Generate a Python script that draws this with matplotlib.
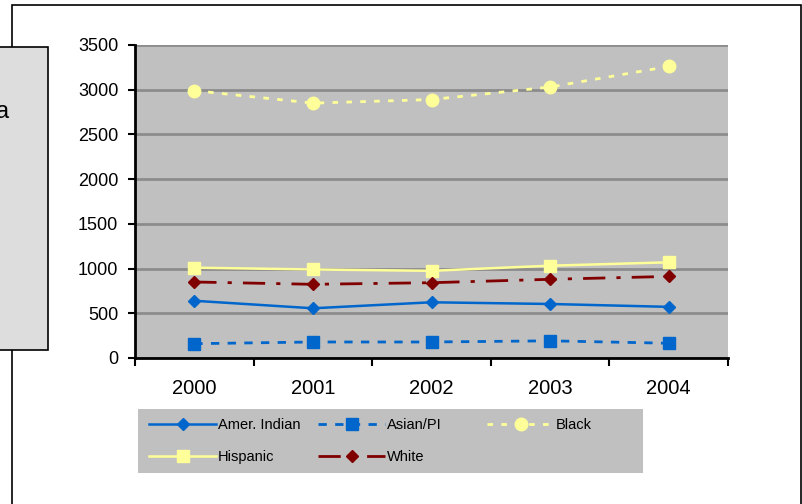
import matplotlib
matplotlib.use("Agg")
import matplotlib.pyplot as plt
from matplotlib.patches import Rectangle

plt.rcParams["font.family"] = ["Liberation Sans", "DejaVu Sans"]

years = ["2000", "2001", "2002", "2003", "2004"]
amer_indian = [640, 556, 623, 604, 572]
asian_pi = [160, 179, 179, 192, 165]
black = [2990, 2850, 2890, 3030, 3260]
hispanic = [1010, 990, 975, 1032, 1070]
white = [850, 824, 842, 880, 912]

W, H = 802, 504
fig = plt.figure(figsize=(W / 100, H / 100), dpi=100)

# outer frame and the cut-off grey box on the left
fig.patches.append(Rectangle((12 / W, -0.01), 789 / W, (H - 5) / H + 0.01,
                             transform=fig.transFigure, fill=False,
                             edgecolor="black", linewidth=1.2))
fig.patches.append(Rectangle((-0.01, (H - 350) / H), 48 / W + 0.01, 303 / H,
                             transform=fig.transFigure, facecolor="#DDDDDD",
                             edgecolor="black", linewidth=1.2))
fig.text(9 / W, 1 - 112 / H, "a", fontsize=17, ha="right", va="center")

ax = fig.add_axes([135 / W, (H - 358) / H, 593 / W, 313 / H])
ax.set_facecolor("#C0C0C0")

x = range(len(years))
l_ai, = ax.plot(x, amer_indian, color="#0066CC", marker="D", markersize=6,
                linewidth=1.8, label="Amer. Indian")
l_as, = ax.plot(x, asian_pi, color="#0066CC", marker="s", markersize=8, linewidth=2,
                linestyle=(0, (3, 3)), label="Asian/PI")
l_bl, = ax.plot(x, black, color="#FFFF99", marker="o", markersize=9, linewidth=2,
                linestyle=(0, (2, 3)), label="Black")
l_hi, = ax.plot(x, hispanic, color="#FFFF99", marker="s", markersize=9,
                linewidth=1.8, label="Hispanic")
l_wh, = ax.plot(x, white, color="#800000", marker="D", markersize=6, linewidth=2,
                linestyle=(0, (8, 4, 1.5, 4)), label="White")

ax.set_xlim(-0.5, len(years) - 0.5)
ax.set_ylim(0, 3500)
ax.set_yticks(range(0, 3501, 500))
ax.set_xticks([i - 0.5 for i in range(len(years) + 1)], minor=False)
ax.set_xticklabels([""] * (len(years) + 1))
ax.set_xticks(list(x), minor=True)
ax.set_xticklabels(years, minor=True, fontsize=14.5)
ax.tick_params(axis="x", which="minor", length=0, pad=15)
ax.tick_params(axis="x", which="major", length=6, width=1.5, direction="out")
ax.tick_params(axis="y", length=5, width=1.5, direction="out", labelsize=13, pad=7)

ax.grid(axis="y", color="#8C8C8C", linewidth=2)
ax.set_axisbelow(True)
for s in ["top", "right"]:
    ax.spines[s].set_visible(False)
for s in ["left", "bottom"]:
    ax.spines[s].set_linewidth(2)

# legend: grey box with three evenly spaced columns
fig.patches.append(Rectangle((138 / W, (H - 473) / H), 505 / W, 64 / H,
                             transform=fig.transFigure, facecolor="#C0C0C0",
                             edgecolor="none"))
columns = [([l_ai, l_hi], 149, 441), ([l_as, l_wh], 318, 441), ([l_bl], 487, 425)]
for handles, x0, yc in columns:
    leg = fig.legend(handles=handles, labels=[h.get_label() for h in handles],
                     loc="center left", bbox_to_anchor=(x0 / W, 1 - yc / H),
                     fontsize=10.5, frameon=False, handlelength=4.6,
                     borderpad=0, borderaxespad=0, handletextpad=0.1,
                     labelspacing=1.25)

fig.savefig("out.png", dpi=100)
